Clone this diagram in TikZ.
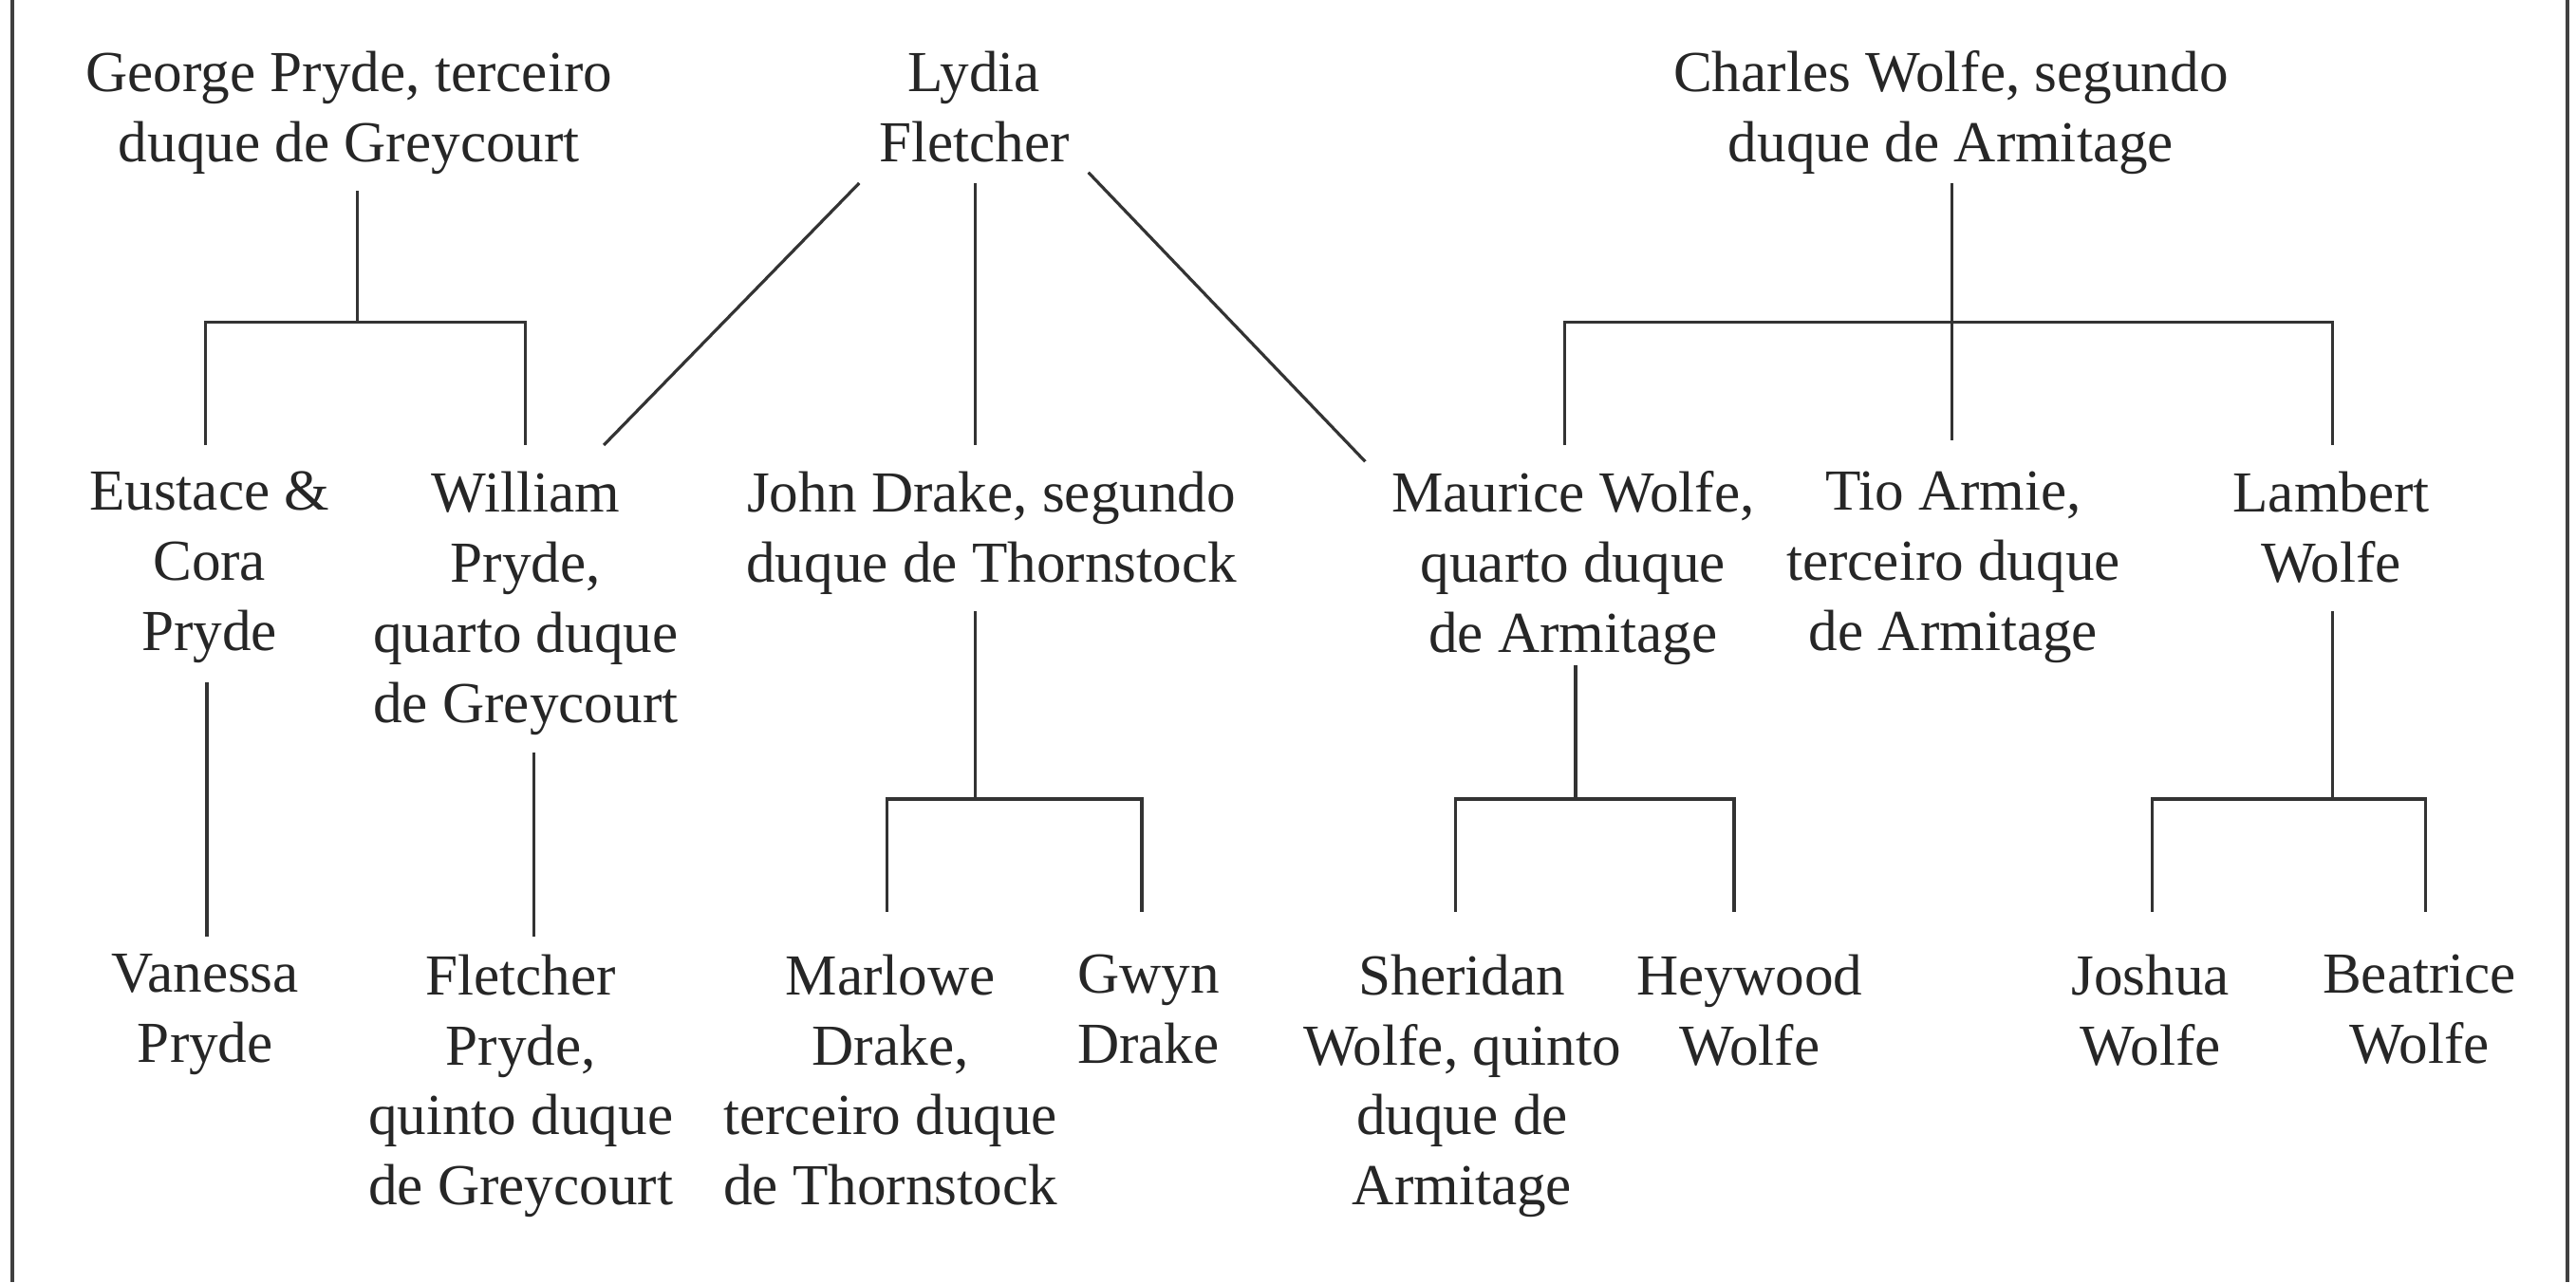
\documentclass[tikz,border=0pt]{standalone}
\usepackage{fontspec}
\setmainfont{Liberation Serif}
\begin{document}
\begin{tikzpicture}[x=0.4328pt,y=-0.4328pt,
  person/.style={anchor=north,align=center,inner sep=0pt,text=black!85,
    font=\fontsize{15.3pt}{18.5pt}\selectfont},
  link/.style={draw=black!80,line width=0.8pt},
  frame/.style={draw=black!75,line width=0.9pt}]
\useasboundingbox (0,0) rectangle (1568,780.6);
% frame sides
\coordinate (fl1) at (7.5,0); \coordinate (fl2) at (7.5,780.6);
\coordinate (fr1) at (1562.8,0); \coordinate (fr2) at (1562.8,780.6);
\draw[frame] (fl1) -- (fl2);
\draw[frame] (fr1) -- (fr2);
% row 1
\node[person] (george) at (212.5,30.5) {George Pryde, terceiro\\duque de Greycourt};
\node[person] (lydia) at (593,30.5) {Lydia\\Fletcher};
\node[person] (charles) at (1187.5,30.5) {Charles Wolfe, segundo\\duque de Armitage};
% row 2
\node[person] (eustace) at (127.5,286.5) {Eustace \&\\Cora\\Pryde};
\node[person] (william) at (320,286.5) {William\\Pryde,\\quarto duque\\de Greycourt};
\node[person] (john) at (603.5,286.5) {John Drake, segundo\\duque de Thornstock};
\node[person] (maurice) at (957.5,286.5) {Maurice Wolfe,\\quarto duque\\de Armitage};
\node[person] (tio) at (1189,286.5) {Tio Armie,\\terceiro duque\\de Armitage};
\node[person] (lambert) at (1419,286.5) {Lambert\\Wolfe};
% row 3
\node[person] (vanessa) at (125,580.5) {Vanessa\\Pryde};
\node[person] (fletcher) at (317,580.5) {Fletcher\\Pryde,\\quinto duque\\de Greycourt};
\node[person] (marlowe) at (542,580.5) {Marlowe\\Drake,\\terceiro duque\\de Thornstock};
\node[person] (gwyn) at (699,580.5) {Gwyn\\Drake};
\node[person] (sheridan) at (890,580.5) {Sheridan\\Wolfe, quinto\\duque de\\Armitage};
\node[person] (heywood) at (1065,580.5) {Heywood\\Wolfe};
\node[person] (joshua) at (1309,580.5) {Joshua\\Wolfe};
\node[person] (beatrice) at (1472.7,580.5) {Beatrice\\Wolfe};
% connector points
\coordinate (gtop) at (217.5,116); \coordinate (gbar) at (217.5,196);
\coordinate (eup) at (125,271); \coordinate (wup) at (320,271);
\coordinate (lyl) at (523,111.5); \coordinate (wdiag) at (367.5,271);
\coordinate (lyc) at (593.5,111.5); \coordinate (jup) at (593.5,271);
\coordinate (lyr) at (662.5,105); \coordinate (mdiag) at (831,281);
\coordinate (ctop) at (1188,111.4); \coordinate (tup) at (1188,268);
\coordinate (cbar) at (1188,196);
\coordinate (mup) at (952.6,271); \coordinate (lup) at (1420,271);
\coordinate (eudn) at (126,415.5); \coordinate (vup) at (126,570.5);
\coordinate (widn) at (325,458); \coordinate (fup) at (325,570.5);
\coordinate (jdn) at (593.5,372); \coordinate (jbar) at (593.5,486.5);
\coordinate (maup) at (540,555); \coordinate (gwup) at (695,555);
\coordinate (mdn) at (959,405); \coordinate (mbar) at (959,486.5);
\coordinate (shup) at (886,555); \coordinate (heup) at (1055.5,555);
\coordinate (ldn) at (1420,372); \coordinate (lbar) at (1420,486.5);
\coordinate (joup) at (1310,555); \coordinate (beup) at (1476.4,555);
% connectors
\draw[link] (gtop) -- (gbar);
\draw[link] (eup) |- (gbar) -| (wup);
\draw[link] (lyl) -- (wdiag);
\draw[link] (lyc) -- (jup);
\draw[link] (lyr) -- (mdiag);
\draw[link] (ctop) -- (tup);
\draw[link] (mup) |- (cbar) -| (lup);
\draw[link] (eudn) -- (vup);
\draw[link] (widn) -- (fup);
\draw[link] (jdn) -- (jbar);
\draw[link] (maup) |- (jbar) -| (gwup);
\draw[link] (mdn) -- (mbar);
\draw[link] (shup) |- (mbar) -| (heup);
\draw[link] (ldn) -- (lbar);
\draw[link] (joup) |- (lbar) -| (beup);
\end{tikzpicture}
\end{document}
